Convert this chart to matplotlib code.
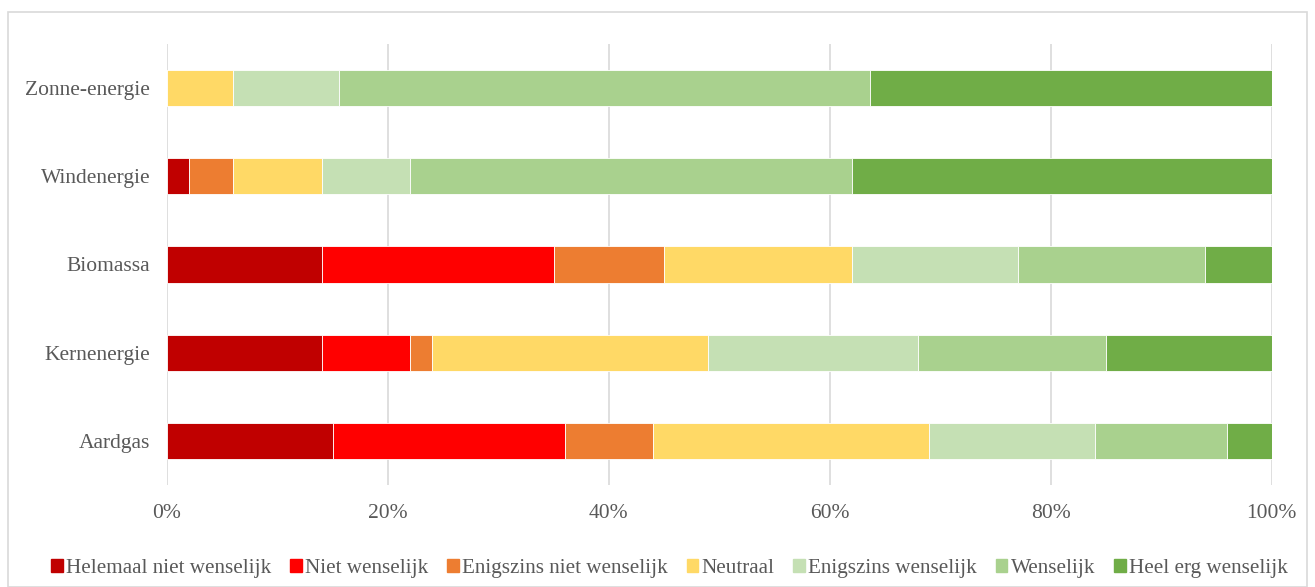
import numpy as np
import matplotlib.pyplot as plt
import matplotlib.patches as mpatches

plt.rcParams['font.family'] = ['Liberation Serif', 'DejaVu Serif']

categories = ["Aardgas", "Kernenergie", "Biomassa", "Windenergie", "Zonne-energie"]
series_names = ["Helemaal niet wenselijk", "Niet wenselijk", "Enigszins niet wenselijk",
                "Neutraal", "Enigszins wenselijk", "Wenselijk", "Heel erg wenselijk"]
colors = ["#C00000", "#FF0000", "#ED7D31", "#FFD966", "#C5E0B4", "#A9D18E", "#70AD47"]

# percentages per category, order as series_names
helemaal_niet = [15, 14, 14, 2, 0]
niet = [21, 8, 21, 0, 0]
enigszins_niet = [8, 2, 10, 4, 0]
neutraal = [25, 25, 17, 8, 6]
enigszins = [15, 19, 15, 8, 9.6]
wenselijk = [12, 17, 17, 40, 48]
heel_erg = [4, 15, 6, 38, 36.4]

values = [helemaal_niet, niet, enigszins_niet, neutraal, enigszins, wenselijk, heel_erg]

fig = plt.figure(figsize=(13.15, 5.87), dpi=100)
ax = fig.add_axes([0.127, 0.174, 0.840, 0.751])

y = np.arange(len(categories))
left = np.zeros(len(categories))
for name, vals, col in zip(series_names, values, colors):
    vals = np.array(vals, dtype=float)
    ax.barh(y, vals, left=left, height=0.41, color=col, edgecolor='white', linewidth=0.6, label=name, zorder=3)
    left += vals

ax.set_xlim(0, 100)
ax.set_ylim(-0.5, 4.5)
ax.set_yticks(y)
ax.set_yticklabels(categories, fontsize=15.5, color='#595959')
ax.set_xticks(np.arange(0, 101, 20))
ax.set_xticklabels([f"{v}%" for v in range(0, 101, 20)], fontsize=15.5, color='#595959')
ax.tick_params(axis='both', length=0)
ax.tick_params(axis='x', pad=14)
ax.tick_params(axis='y', pad=12)
ax.grid(axis='x', color='#D9D9D9', linewidth=1.2, zorder=0)
for s in ax.spines.values():
    s.set_visible(False)

handles = [mpatches.Patch(color=c, label=n) for n, c in zip(series_names, colors)]
leg = fig.legend(handles=handles, loc='center', bbox_to_anchor=(0.509, 0.032), ncol=7,
                 frameon=False, fontsize=15.2, handlelength=0.55, handleheight=0.55,
                 handletextpad=0.15, columnspacing=0.9, borderpad=0)
for t in leg.get_texts():
    t.set_color('#595959')

fig.patches.append(mpatches.Rectangle((0.006, 0.0), 0.988, 0.98, transform=fig.transFigure,
                                      fill=False, edgecolor='#D9D9D9', linewidth=1.2))

fig.savefig("out.png", dpi=100)
